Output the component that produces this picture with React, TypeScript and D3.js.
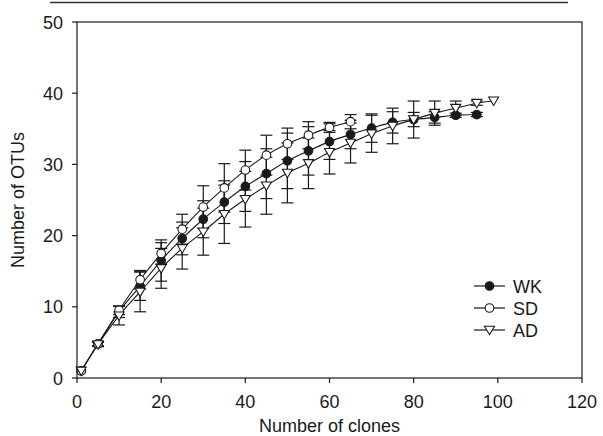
import React from 'react';
import * as d3 from 'd3';

// clone counts sampled for each library
const xWK = [1, 5, 10, 15, 20, 25, 30, 35, 40, 45, 50, 55, 60, 65, 70, 75, 80, 85, 90, 95];
const xSD = [1, 5, 10, 15, 20, 25, 30, 35, 40, 45, 50, 55, 60, 65];
const xAD = [1, 5, 10, 15, 20, 25, 30, 35, 40, 45, 50, 55, 60, 65, 70, 75, 80, 85, 90, 95, 99];

const yWK = [1, 4.8, 9.3, 12.9, 16.5, 19.6, 22.3, 24.7, 26.9, 28.7, 30.5, 31.9, 33.2, 34.2, 35.1, 35.9, 36.3, 36.6, 36.9, 37.0];
const eWK = [0, 0.3, 0.8, 2.0, 2.9, 2.3, 2.6, 3.0, 3.5, 3.5, 3.9, 3.4, 2.5, 2.0, 2.0, 1.5, 1.0, 0.8, 0.3, 0.3];

const ySD = [1, 4.8, 9.5, 13.8, 17.5, 20.9, 24.0, 26.7, 29.2, 31.3, 32.9, 34.1, 35.2, 36.0];
const eSD = [0, 0.3, 0.6, 1.3, 1.5, 2.1, 3.0, 3.4, 2.8, 2.8, 2.2, 1.9, 0.7, 1.0];

const yAD = [1, 4.7, 8.75, 12.1, 15.4, 18.2, 20.55, 23.0, 25.1, 27.0, 28.8, 30.15, 31.7, 33.0, 34.3, 35.4, 36.3, 37.2, 37.9, 38.6, 38.95];
const eAD = [0, 0.3, 1.3, 2.8, 2.8, 2.9, 3.3, 4.1, 3.9, 4.0, 4.2, 3.55, 3.05, 2.8, 2.6, 2.5, 2.6, 1.7, 1.0, 0.3, 0];

const xTicks = [0, 20, 40, 60, 80, 100, 120];
const yTicks = [0, 10, 20, 30, 40, 50];

const W = 603;
const H = 436;
const M = { left: 77, top: 22, right: 21, bottom: 58 };
const FONT = '"Liberation Sans", Arial, Helvetica, sans-serif';
const INK = '#1a1a1a';

type Kind = 'filled' | 'open' | 'tri';

function Marker({ cx, cy, kind }: { cx: number; cy: number; kind: Kind }) {
	if (kind === 'tri') {
		const s = 5;
		return (
			<path
				d={`M${cx - s},${cy - s * 0.75}L${cx + s},${cy - s * 0.75}L${cx},${cy + s * 0.95}Z`}
				fill="#fff"
				stroke={INK}
				strokeWidth={1.1}
			/>
		);
	}
	return (
		<circle
			cx={cx}
			cy={cy}
			r={4.3}
			fill={kind === 'filled' ? INK : '#fff'}
			stroke={INK}
			strokeWidth={1.1}
		/>
	);
}

export default function App() {
	const x = d3.scaleLinear().domain([0, 120]).range([M.left, W - M.right]);
	const y = d3.scaleLinear().domain([0, 50]).range([H - M.bottom, M.top]);

	const series: { name: string; xs: number[]; ys: number[]; es: number[]; kind: Kind }[] = [
		{ name: 'WK', xs: xWK, ys: yWK, es: eWK, kind: 'filled' },
		{ name: 'SD', xs: xSD, ys: ySD, es: eSD, kind: 'open' },
		{ name: 'AD', xs: xAD, ys: yAD, es: eAD, kind: 'tri' },
	];

	const lineGen = d3
		.line<[number, number]>()
		.x((d) => x(d[0]))
		.y((d) => y(d[1]))
		.curve(d3.curveMonotoneX);

	const x0 = x(0);
	const x1 = x(120);
	const y0 = y(0);
	const y1 = y(50);
	const cap = 6;

	return (
		<svg
			width={W}
			height={H}
			style={{ position: 'absolute', left: 0, top: 0, background: '#fff' }}
			fontFamily={FONT}
		>
			<line x1={50} x2={568} y1={2.5} y2={2.5} stroke="#333" strokeWidth={1.6} />

			{/* error bars */}
			{series.map((s) =>
				s.xs.map((xv, i) => {
					const e = s.es[i];
					if (!e) return null;
					const cx = x(xv);
					const top = y(s.ys[i] + e);
					const bot = y(s.ys[i] - e);
					return (
						<g key={`${s.name}-e-${i}`} stroke={INK} strokeWidth={1.2}>
							<line x1={cx} x2={cx} y1={top} y2={bot} />
							<line x1={cx - cap} x2={cx + cap} y1={top} y2={top} />
							<line x1={cx - cap} x2={cx + cap} y1={bot} y2={bot} />
						</g>
					);
				}),
			)}

			{/* lines */}
			{series.map((s) => (
				<path
					key={`${s.name}-l`}
					d={lineGen(s.xs.map((xv, i) => [xv, s.ys[i]] as [number, number])) || ''}
					fill="none"
					stroke={INK}
					strokeWidth={1.1}
				/>
			))}

			{/* markers */}
			{series.map((s) =>
				s.xs.map((xv, i) => (
					<Marker key={`${s.name}-m-${i}`} cx={x(xv)} cy={y(s.ys[i])} kind={s.kind} />
				)),
			)}

			{/* frame */}
			<rect x={x0} y={y1} width={x1 - x0} height={y0 - y1} fill="none" stroke={INK} strokeWidth={1.2} />

			{/* axes */}
			{xTicks.map((t) => (
				<g key={`xt-${t}`}>
					<line x1={x(t)} x2={x(t)} y1={y0} y2={y0 + 5} stroke={INK} strokeWidth={1.2} />
					<text x={x(t)} y={y0 + 30} textAnchor="middle" fontSize={18} fill={INK}>
						{t}
					</text>
				</g>
			))}
			{yTicks.map((t) => (
				<g key={`yt-${t}`}>
					<line x1={x0 - 5} x2={x0} y1={y(t)} y2={y(t)} stroke={INK} strokeWidth={1.2} />
					<text x={x0 - 14} y={y(t) + 6.5} textAnchor="end" fontSize={18} fill={INK}>
						{t}
					</text>
				</g>
			))}

			<text x={(x0 + x1) / 2} y={H - 4} textAnchor="middle" fontSize={18} fill={INK}>
				Number of clones
			</text>
			<text
				transform={`translate(24,${(y0 + y1) / 2}) rotate(-90)`}
				textAnchor="middle"
				fontSize={18}
				fill={INK}
			>
				Number of OTUs
			</text>

			{/* legend */}
			{series.map((s, i) => {
				const ly = 286 + i * 22;
				return (
					<g key={`lg-${s.name}`}>
						<line x1={474} x2={505} y1={ly} y2={ly} stroke={INK} strokeWidth={1.2} />
						<Marker cx={489.5} cy={ly} kind={s.kind} />
						<text x={513} y={ly + 6.5} fontSize={18} fill={INK}>
							{s.name}
						</text>
					</g>
				);
			})}
		</svg>
	);
}
